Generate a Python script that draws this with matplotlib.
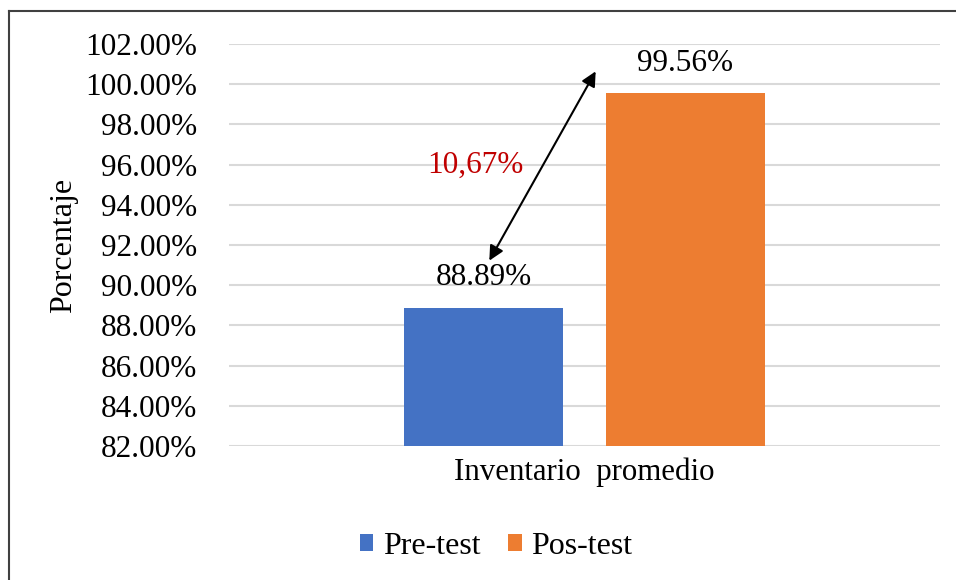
import matplotlib
matplotlib.use("Agg")
import matplotlib.pyplot as plt
from matplotlib.patches import Patch
from matplotlib.lines import Line2D

# ── Data ──────────────────────────────────────────────────────────────
categories = ["Inventario  promedio"]
series_names = ["Pre-test", "Pos-test"]
values = [88.89, 99.56]
difference_label = "10,67%"
yticks = [82, 84, 86, 88, 90, 92, 94, 96, 98, 100, 102]

colors = ["#4472C4", "#ED7D31"]

plt.rcParams["font.family"] = ["Liberation Serif", "DejaVu Serif"]

fig = plt.figure(figsize=(9.56, 5.8), dpi=100)
ax = fig.add_axes([229 / 956, 1 - 446 / 580, 711 / 956, 402 / 580])

offsets = [-0.5, 0.5]
bar_w = 0.787
for off, v, c, name in zip(offsets, values, colors, series_names):
    ax.bar(off, v - yticks[0], bottom=yticks[0], width=bar_w, color=c,
           label=name, zorder=3)
    ax.text(off, v + 0.75, f"{v:.2f}%", ha="center", va="bottom",
            fontsize=22.5, color="black", zorder=4)

ax.set_xlim(-1.76, 1.76)
ax.set_ylim(yticks[0], yticks[-1])
ax.set_yticks(yticks)
ax.set_yticklabels([f"{t:.2f}%" for t in yticks], fontsize=22.5)
ax.set_xticks([0])
ax.set_xticklabels(categories, fontsize=22.2)
ax.tick_params(axis="y", length=0, pad=23)
ax.tick_params(axis="x", length=0, pad=8)
ax.grid(axis="y", color="#D9D9D9", lw=1.5, zorder=0)
for s in ax.spines.values():
    s.set_visible(False)
ax.set_ylabel("Porcentaje", fontsize=23)
ax.yaxis.set_label_coords(-0.212, 0.5)

# difference arrow
ax.annotate("", xy=(0.062, 100.76), xytext=(-0.478, 91.1),
            arrowprops=dict(arrowstyle="<|-|>", color="black", lw=1.5,
                            mutation_scale=22), zorder=5)
ax.text(-0.542, 95.98, difference_label, ha="center", va="center",
        fontsize=22.5, color="#C00000", zorder=5)

# legend
handles = [Patch(facecolor=c, label=n) for c, n in zip(colors, series_names)]
fig.legend(handles=handles, loc="center", bbox_to_anchor=(0.519, 0.058),
           ncol=2, frameon=False, fontsize=23, handlelength=0.42,
           handleheight=0.42, handletextpad=0.3, columnspacing=0.87)

# chart border (top and left visible)
fig.add_artist(Line2D([9 / 956, 9 / 956], [0, 1 - 11 / 580],
                      transform=fig.transFigure, color="#404040", lw=1.5))
fig.add_artist(Line2D([9 / 956, 1], [1 - 11 / 580, 1 - 11 / 580],
                      transform=fig.transFigure, color="#404040", lw=1.5))

fig.savefig("out.png", dpi=100, facecolor="white")
